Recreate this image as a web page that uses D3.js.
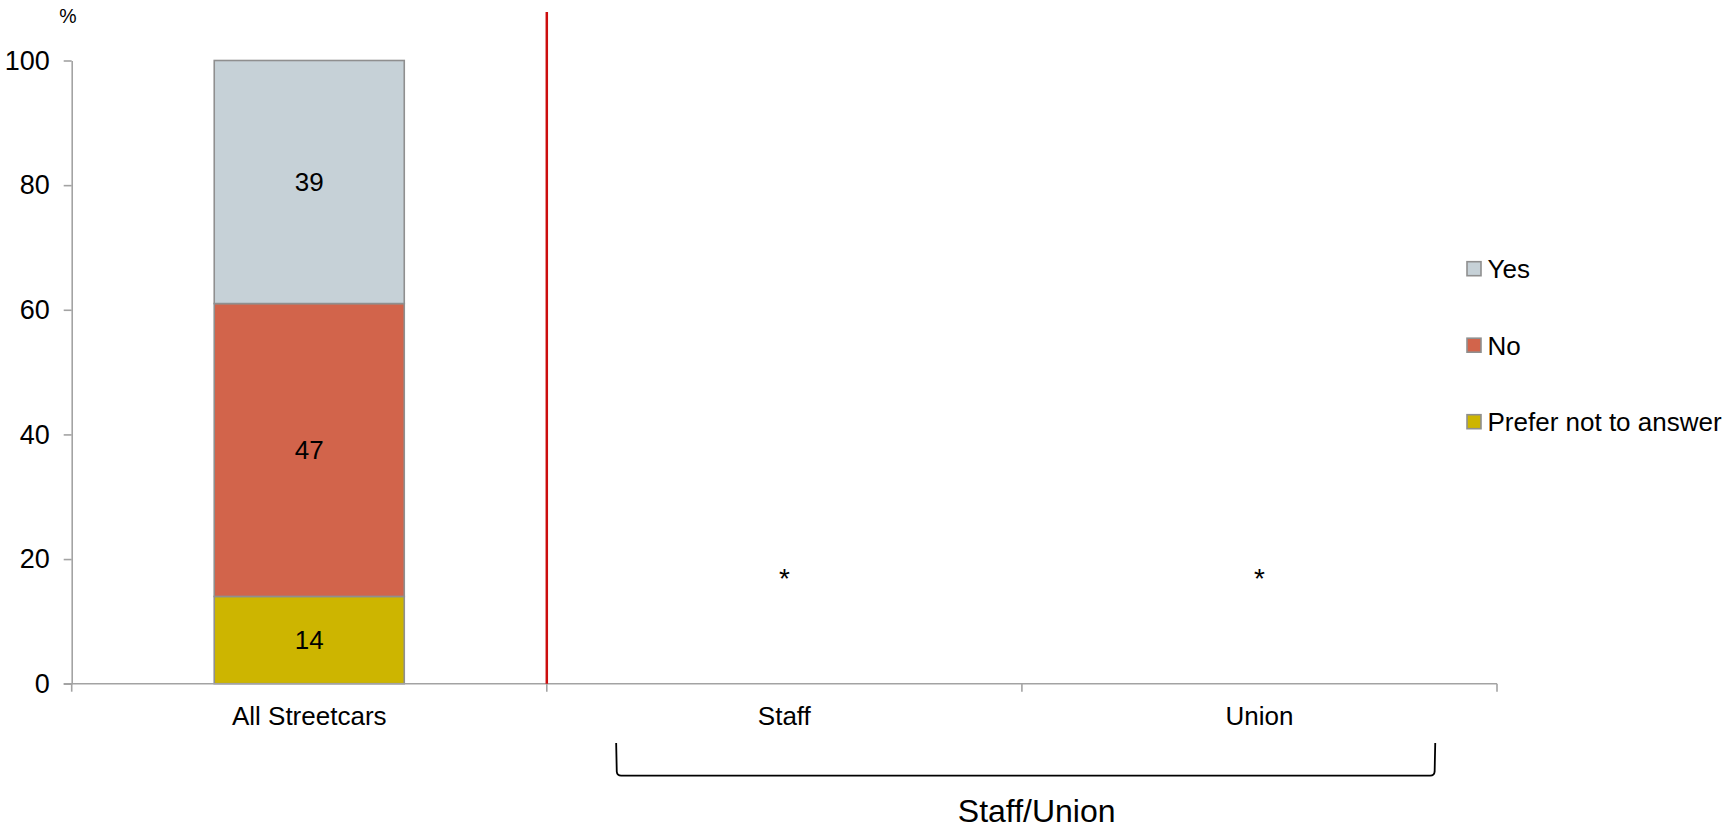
<!DOCTYPE html>
<html>
<head>
<meta charset="utf-8">
<script src="https://cdn.jsdelivr.net/npm/d3@7"></script>
<style>
  html, body { margin: 0; padding: 0; background: #ffffff; }
  svg { display: block; font-family: "Liberation Sans", Arial, sans-serif; }
</style>
</head>
<body>
<svg id="chart" width="1729" height="829"></svg>
<script>
// Survey responses, percent of respondents
const categories = ["All Streetcars", "Staff", "Union"];
const seriesNames = ["Yes", "No", "Prefer not to answer"];
const yesValues = [39, null, null];
const noValues = [47, null, null];
const preferNotValues = [14, null, null];
// Groups with too few responses are flagged instead of plotted
const noteText = "*";
const noteCategories = ["Staff", "Union"];
const notePosition = 18;
const yTicks = [0, 20, 40, 60, 80, 100];
const groupLabel = "Staff/Union";
const groupMembers = ["Staff", "Union"];

const colors = {
  "Yes": "#c6d1d7",
  "No": "#d2644b",
  "Prefer not to answer": "#cdb500"
};

const svg = d3.select("#chart");
const axisColor = "#a3a3a3";
const fontSize = 26;

const x = d3.scaleBand().domain(categories).range([71.7, 1497]).padding(0);
const y = d3.scaleLinear().domain([0, 100]).range([683.7, 60.5]);
const barWidth = x.bandwidth() * 0.4;

// Stack from the bottom: Prefer not to answer, No, Yes
const rows = categories.map((c, i) => ({
  category: c,
  has: yesValues[i] != null,
  "Yes": yesValues[i] || 0,
  "No": noValues[i] || 0,
  "Prefer not to answer": preferNotValues[i] || 0
}));
const stackOrder = ["Prefer not to answer", "No", "Yes"];
const stacked = d3.stack().keys(stackOrder)(rows);

// Y axis
const yAxis = svg.append("g")
  .attr("transform", `translate(${x.range()[0]},0)`)
  .call(d3.axisLeft(y).tickValues(yTicks).tickSize(8).tickPadding(14).tickSizeOuter(0));
yAxis.select(".domain").attr("stroke", axisColor).attr("stroke-width", 1.6);
yAxis.selectAll(".tick line").attr("stroke", axisColor).attr("stroke-width", 1.6);
yAxis.selectAll(".tick text")
  .attr("fill", "#000")
  .style("font-size", "27px")
  .style("font-family", "'Liberation Sans', Arial, sans-serif");

// Unit label
svg.append("text")
  .attr("x", 68).attr("y", 23)
  .attr("text-anchor", "middle")
  .style("font-size", "19.5px")
  .text("%");

// Bars
const layers = svg.append("g").selectAll("g")
  .data(stacked)
  .join("g")
  .attr("fill", d => colors[d.key]);

layers.selectAll("rect")
  .data(d => d.filter(p => p.data.has).map(p => ({ p, key: d.key })))
  .join("rect")
  .attr("x", d => x(d.p.data.category) + (x.bandwidth() - barWidth) / 2)
  .attr("y", d => y(d.p[1]))
  .attr("width", barWidth)
  .attr("height", d => y(d.p[0]) - y(d.p[1]))
  .attr("stroke", "#8f8f8f")
  .attr("stroke-width", 1.6);

// Value labels centred in each segment
layers.selectAll("text")
  .data(d => d.filter(p => p.data.has).map(p => ({ p, key: d.key })))
  .join("text")
  .attr("x", d => x(d.p.data.category) + x.bandwidth() / 2)
  .attr("y", d => y((d.p[0] + d.p[1]) / 2))
  .attr("dy", "0.36em")
  .attr("text-anchor", "middle")
  .attr("fill", "#000")
  .style("font-size", fontSize + "px")
  .text(d => d.p.data[d.key]);

// X axis baseline with ticks at category boundaries
const xAxisG = svg.append("g");
xAxisG.append("line")
  .attr("x1", x.range()[0] - 8).attr("x2", x.range()[1])
  .attr("y1", y(0)).attr("y2", y(0))
  .attr("stroke", axisColor).attr("stroke-width", 1.6);
const boundaries = categories.map(c => x(c)).concat([x.range()[1]]);
xAxisG.selectAll("line.tick")
  .data(boundaries)
  .join("line")
  .attr("class", "tick")
  .attr("x1", d => d).attr("x2", d => d)
  .attr("y1", y(0)).attr("y2", y(0) + 8)
  .attr("stroke", axisColor).attr("stroke-width", 1.6);
xAxisG.selectAll("text")
  .data(categories)
  .join("text")
  .attr("x", d => x(d) + x.bandwidth() / 2)
  .attr("y", 725)
  .attr("text-anchor", "middle")
  .style("font-size", "26px")
  .text(d => d);

// Divider between the total and the breakdown
svg.append("line")
  .attr("x1", x(categories[1])).attr("x2", x(categories[1]))
  .attr("y1", 12).attr("y2", y(0))
  .attr("stroke", "#cc0d0d").attr("stroke-width", 2.5);

// Flags for groups without reportable results
svg.append("g").selectAll("text")
  .data(noteCategories)
  .join("text")
  .attr("x", d => x(d) + x.bandwidth() / 2)
  .attr("y", y(notePosition))
  .attr("dy", "0.6em")
  .attr("text-anchor", "middle")
  .style("font-size", "28px")
  .text(noteText);

// Bracket grouping Staff and Union
const bLeft = x(groupMembers[0]) + x.bandwidth() * 0.146;
const bRight = x(groupMembers[1]) + x.bandwidth() * 0.87;
const bTop = 743, bBottom = 775.7, r = 4;
svg.append("path")
  .attr("d", `M${bLeft},${bTop} L${bLeft + 0.6},${bBottom - r} Q${bLeft + 1},${bBottom} ${bLeft + r + 1},${bBottom}
              L${bRight - r - 1},${bBottom} Q${bRight - 1},${bBottom} ${bRight - 0.6},${bBottom - r} L${bRight},${bTop}`)
  .attr("fill", "none")
  .attr("stroke", "#000")
  .attr("stroke-width", 1.8);
svg.append("text")
  .attr("x", (bLeft + bRight) / 2 + 11)
  .attr("y", 822)
  .attr("text-anchor", "middle")
  .style("font-size", "32px")
  .text(groupLabel);

// Legend
const legend = svg.append("g").selectAll("g")
  .data(seriesNames)
  .join("g")
  .attr("transform", (d, i) => `translate(1467,${268.7 + i * 76.5})`);
legend.append("rect")
  .attr("x", 0).attr("y", -7)
  .attr("width", 14).attr("height", 14)
  .attr("fill", d => colors[d])
  .attr("stroke", "#8f8f8f")
  .attr("stroke-width", 1.6);
legend.append("text")
  .attr("x", 20.5).attr("y", 0)
  .attr("dy", "0.36em")
  .style("font-size", "26px")
  .text(d => d);
</script>
</body>
</html>
